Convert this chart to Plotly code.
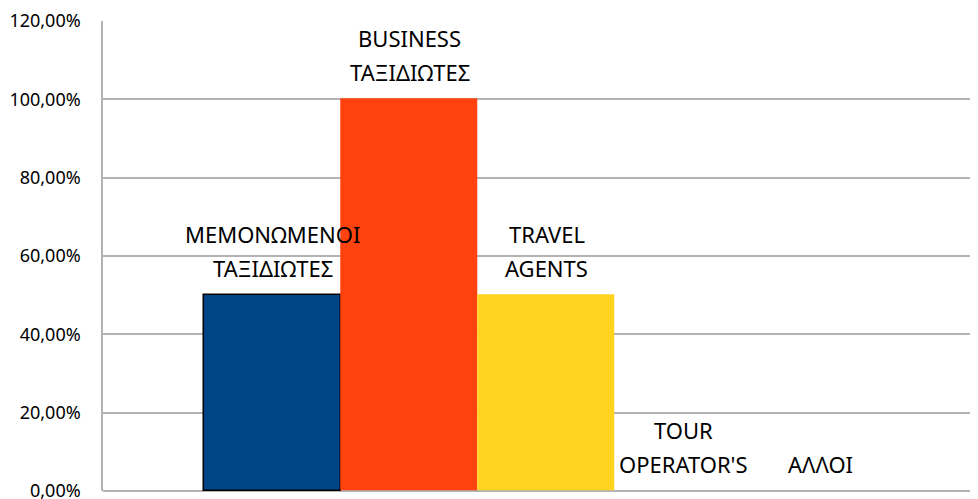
import plotly.graph_objects as go

categories = ["ΜΕΜΟΝΩΜΕΝΟΙ ΤΑΞΙΔΙΩΤΕΣ", "BUSINESS ΤΑΞΙΔΙΩΤΕΣ", "TRAVEL AGENTS", "TOUR OPERATOR'S", "ΑΛΛΟΙ"]
label_line1 = ["ΜΕΜΟΝΩΜΕΝΟΙ", "BUSINESS", "TRAVEL", "TOUR", ""]
label_line2 = ["ΤΑΞΙΔΙΩΤΕΣ", "ΤΑΞΙΔΙΩΤΕΣ", "AGENTS", "OPERATOR'S", "ΑΛΛΟΙ"]
values = [0.50, 1.00, 0.50, 0.0, 0.0]
colors = ["#004586", "#ff420e", "#ffd320", "#579d1c", "#7e0021"]
tick_vals = [0, 0.2, 0.4, 0.6, 0.8, 1.0, 1.2]
tick_text = ["0,00%", "20,00%", "40,00%", "60,00%", "80,00%", "100,00%", "120,00%"]

fig = go.Figure()
fig.add_trace(go.Bar(
    x=categories, y=values,
    marker=dict(color=colors, line=dict(color=["#000000", "rgba(0,0,0,0)", "rgba(0,0,0,0)", "rgba(0,0,0,0)", "rgba(0,0,0,0)"], width=1.5)),
    width=1.0,
    showlegend=False,
    hoverinfo="skip",
))

lab_font = dict(family="Noto Sans, Open Sans, Liberation Sans", size=22, color="#000000")
for c, v, t1, t2 in zip(categories, values, label_line1, label_line2):
    if t1:
        fig.add_annotation(x=c, y=v, text=t1, showarrow=False, yanchor="middle",
                           yshift=61, font=lab_font)
    fig.add_annotation(x=c, y=v, text=t2, showarrow=False, yanchor="middle",
                       yshift=27, font=lab_font)

fig.update_layout(
    width=970, height=491,
    margin=dict(l=95, r=0, t=13, b=8, autoexpand=False),
    paper_bgcolor="white", plot_bgcolor="white",
    bargap=0,
    xaxis=dict(showticklabels=False, showgrid=False, zeroline=False, showline=False,
               range=[-1.237, 5.146], fixedrange=True, automargin=False),
    yaxis=dict(range=[0, 1.2], tickvals=tick_vals, ticktext=tick_text,
               automargin=False,
               showgrid=True, gridcolor="#b3b3b3", gridwidth=1.5,
               showline=True, linecolor="#b3b3b3", linewidth=1.5,
               zeroline=True, zerolinecolor="#b3b3b3", zerolinewidth=1.5,
               ticks="outside", ticklen=17, tickcolor="rgba(0,0,0,0)",
               ticklabeloverflow="allow",
               tickfont=dict(family="Noto Sans, Open Sans, Liberation Sans", size=18, color="#000000")),
)

fig.write_html("out.html")
